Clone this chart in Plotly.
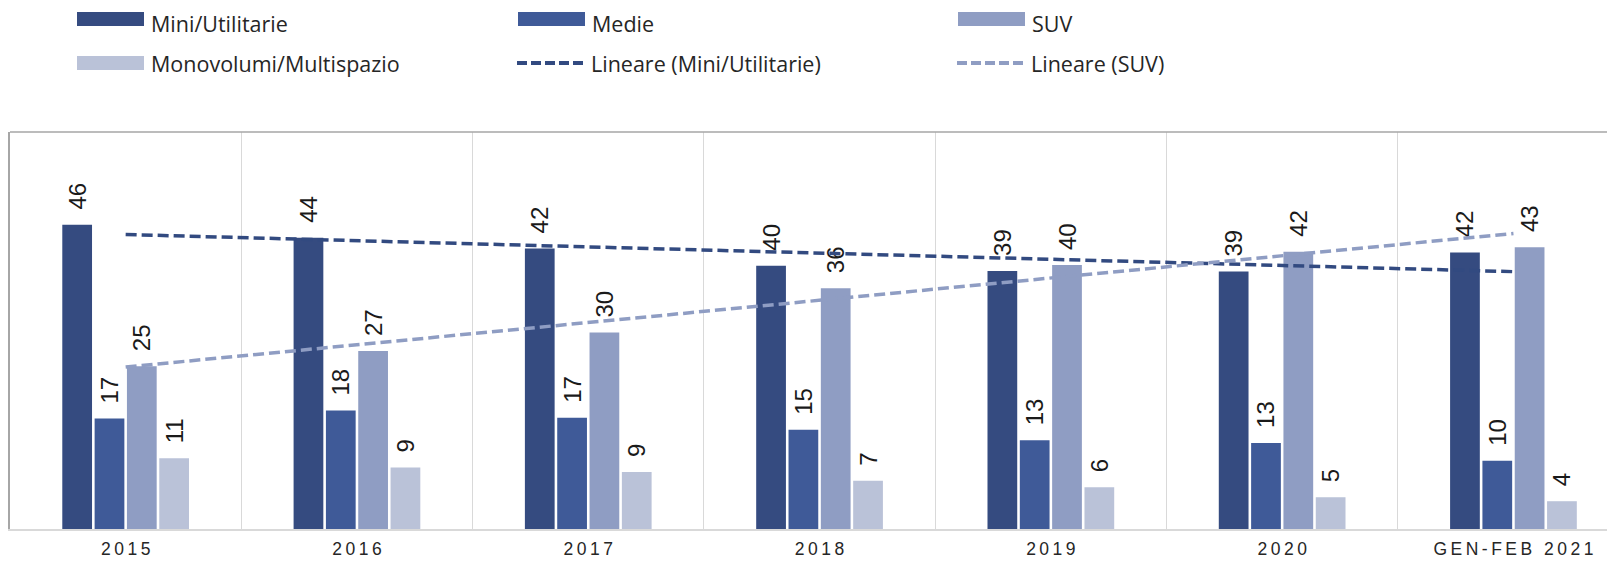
import numpy as np
import plotly.graph_objects as go

categories = ["2015", "2016", "2017", "2018", "2019", "2020", "GEN-FEB 2021"]
mini = [46.0, 44.0, 42.4, 39.8, 39.0, 38.9, 41.8]
medie = [16.7, 17.9, 16.8, 15.0, 13.4, 13.0, 10.3]
suv = [24.6, 26.9, 29.7, 36.4, 39.9, 41.9, 42.6]
mono = [10.7, 9.3, 8.6, 7.3, 6.3, 4.8, 4.2]

series_names = ["Mini/Utilitarie", "Medie", "SUV", "Monovolumi/Multispazio"]
series_vals = [mini, medie, suv, mono]
colors = ["#354B80", "#3F5A98", "#8F9DC3", "#BAC2D8"]

# the page body has an 8px default margin; size the figure so it fills the window
OFF = 8
W, H = 1615 - OFF, 561 - OFF
ML, MR, MT, MB = 10 - OFF, 0, 132 - OFF, 32
PW = W - ML - MR
PH = H - MT - MB

xs = np.arange(len(categories))
cat_px = 231.3
x_hi = -0.5 + PW / cat_px

fig = go.Figure()
for name, vals, col in zip(series_names, series_vals, colors):
    fig.add_trace(go.Bar(
        x=xs, y=vals, name=name, marker=dict(color=col, line=dict(width=0)),
        text=["\u2002" + str(int(round(v))) for v in vals],
        textposition="outside", textangle=-90, constraintext="none",
        cliponaxis=False,
        textfont=dict(family="Liberation Sans, Arial", size=24, color="#1a1a1a"),
        showlegend=False,
    ))

# linear trendlines (Excel "Lineare")
for vals, col in [(mini, "#324A80"), (suv, "#8F9DC3")]:
    k, b = np.polyfit(xs, vals, 1)
    fig.add_trace(go.Scatter(
        x=xs, y=k * xs + b, mode="lines",
        line=dict(color=col, width=3.5, dash="11px,5px"),
        showlegend=False, hoverinfo="skip",
    ))

tick_text = ["\u2009".join(list(c)) for c in categories]

fig.update_layout(
    width=W, height=H,
    margin=dict(l=ML, r=MR, t=MT, b=MB, autoexpand=False),
    plot_bgcolor="white", paper_bgcolor="white",
    barmode="group", bargap=0.441, bargroupgap=0.08,
    xaxis=dict(
        range=[-0.5, x_hi], tickmode="array", tickvals=list(xs), ticktext=tick_text,
        showgrid=False, zeroline=False, automargin=False,
        showline=True, linecolor="#D9D9D9", linewidth=2,
        ticks="", ticklabelstandoff=3,
        tickfont=dict(family="Liberation Sans, Arial", size=17.5, color="#262626"),
        minor=dict(tick0=0.5, dtick=1, showgrid=True, gridcolor="#D9D9D9", gridwidth=1.3),
    ),
    yaxis=dict(
        range=[0, 60], showticklabels=False, showgrid=False, zeroline=False,
        automargin=False,
        showline=True, linecolor="#A6A6A6", linewidth=1.5, ticks="",
    ),
    font=dict(family="Liberation Sans, Arial"),
)

# top border of plot frame
fig.add_shape(type="line", xref="paper", yref="paper", x0=0, x1=1, y0=1, y1=1,
              line=dict(color="#A6A6A6", width=1.5), layer="above")

# manual legend (screen-pixel positions converted to paper coords)
def px(xs_):
    return (xs_ - OFF - ML) / PW

def py(ys_):
    return (H - MB - (ys_ - OFF)) / PH

legend_items = [
    ("bar", series_names[0], colors[0], 77, 19),
    ("bar", series_names[1], colors[1], 518, 19),
    ("bar", series_names[2], colors[2], 958, 19),
    ("bar", series_names[3], colors[3], 77, 63),
    ("line", "Lineare (Mini/Utilitarie)", "#324A80", 517, 63),
    ("line", "Lineare (SUV)", "#8F9DC3", 957, 63),
]
for kind, label, col, x0, yc in legend_items:
    if kind == "bar":
        fig.add_shape(type="rect", xref="paper", yref="paper",
                      x0=px(x0), x1=px(x0 + 67), y0=py(yc + 7), y1=py(yc - 7),
                      fillcolor=col, line=dict(width=0))
    else:
        fig.add_shape(type="line", xref="paper", yref="paper",
                      x0=px(x0), x1=px(x0 + 69), y0=py(yc), y1=py(yc),
                      line=dict(color=col, width=4, dash="10px,4px"))
    fig.add_annotation(xref="paper", yref="paper", x=px(x0 + 73), y=py(max(yc, 23)),
                       text=label, showarrow=False, xanchor="left", yanchor="middle",
                       borderpad=0,
                       font=dict(family="Open Sans, Noto Sans", size=21.5, color="#262626"))

fig.write_html("out.html")
